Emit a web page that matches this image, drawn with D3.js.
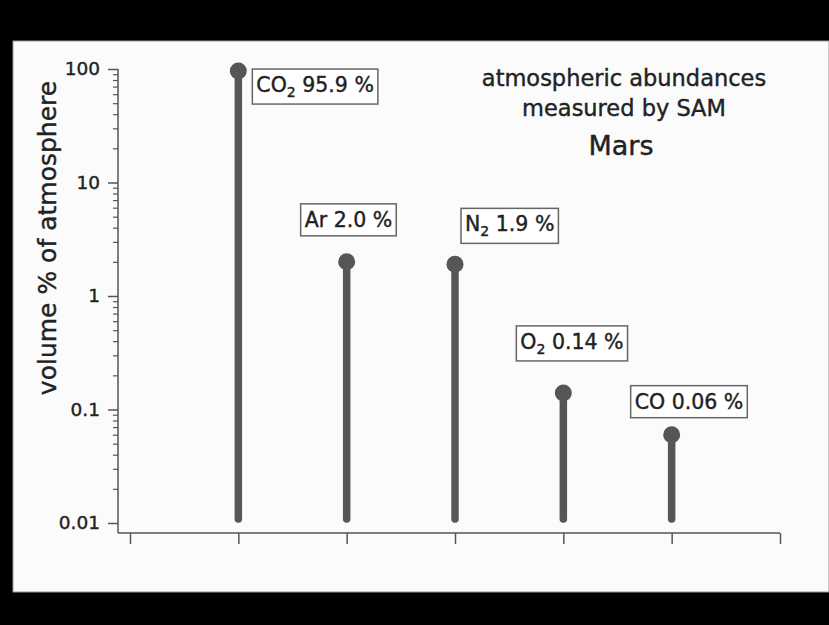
<!DOCTYPE html>
<html>
<head>
<meta charset="utf-8">
<script src="https://cdn.jsdelivr.net/npm/d3@7"></script>
<style>
  html, body { margin: 0; padding: 0; background: #000; }
  svg { display: block; }
  text { font-family: "DejaVu Sans", sans-serif; fill: #222; stroke: #222; stroke-width: 0.4px; }
</style>
</head>
<body>
<svg id="chart" width="829" height="625"></svg>
<script>
// ---------- data ----------
const gasBase = ["CO", "Ar", "N", "O", "CO"];
const gasSub = ["2", "", "2", "2", ""];
const abundance = [95.9, 2.0, 1.9, 0.14, 0.06];
const abundanceLabels = ["95.9 %", "2.0 %", "1.9 %", "0.14 %", "0.06 %"];
const categoryIndex = [1, 2, 3, 4, 5];
const xTickValues = [0, 1, 2, 3, 4, 5, 6];
const yTickValues = [0.01, 0.1, 1, 10, 100];
const yTickLabels = ["0.01", "0.1", "1", "10", "100"];
const titleLines = ["atmospheric abundances", "measured by SAM"];
const subtitle = "Mars";
const yAxisTitle = "volume % of atmosphere";

// ---------- layout (not data) ----------
// label box top-left offset relative to its dot
const labelOffsets = [[14, -2], [-46, -58], [6, -56], [-47, -67], [-41, -49]];

const svg = d3.select("#chart");
const W = 829, H = 625;

// panel
svg.append("rect").attr("x", 0).attr("y", 0).attr("width", W).attr("height", H).attr("fill", "#000");
svg.append("rect").attr("x", 13).attr("y", 41).attr("width", W - 13).attr("height", 551)
  .attr("fill", "#fbfbfb").attr("stroke", "#999").attr("stroke-width", 1);

const axisY = 533, axisX = 118;
const x = d3.scaleLinear().domain([0, 6]).range([130, 780]);
const y = d3.scaleLog().domain([0.01, 100]).range([523, 69]);

const axisColor = "#555";

// x axis
const gx = svg.append("g").attr("transform", `translate(0,${axisY})`)
  .call(d3.axisBottom(x).tickValues(xTickValues).tickSize(11).tickSizeOuter(0).tickFormat(""));
gx.select(".domain").remove();
gx.selectAll(".tick line").attr("stroke", axisColor).attr("stroke-width", 1.5);
svg.append("line").attr("x1", axisX).attr("x2", x(6)).attr("y1", axisY).attr("y2", axisY)
  .attr("stroke", axisColor).attr("stroke-width", 1.5);

// y axis minor ticks
const minorVals = [];
yTickValues.slice(0, -1).forEach(d => { for (let k = 2; k <= 9; k++) minorVals.push(d * k); });
const gyMinor = svg.append("g").attr("transform", `translate(${axisX},0)`)
  .call(d3.axisLeft(y).tickValues(minorVals).tickSize(5).tickSizeOuter(0).tickFormat(""));
gyMinor.select(".domain").remove();
gyMinor.selectAll(".tick line").attr("stroke", axisColor).attr("stroke-width", 1.2);

// y axis major ticks
const gy = svg.append("g").attr("transform", `translate(${axisX},0)`)
  .call(d3.axisLeft(y).tickValues(yTickValues).tickSize(10).tickPadding(8).tickSizeOuter(0)
    .tickFormat((d, i) => yTickLabels[i]));
gy.select(".domain").remove();
gy.selectAll(".tick line").attr("stroke", axisColor).attr("stroke-width", 1.5);
gy.selectAll(".tick text").attr("font-size", 18.5).attr("fill", "#222")
  .attr("font-family", "DejaVu Sans, sans-serif");
svg.append("line").attr("x1", axisX).attr("x2", axisX).attr("y1", y(100)).attr("y2", axisY)
  .attr("stroke", axisColor).attr("stroke-width", 1.5);

// y axis title
svg.append("text")
  .attr("transform", `translate(47,238) rotate(-90)`)
  .attr("text-anchor", "middle").attr("dominant-baseline", "central")
  .attr("font-size", 25).attr("fill", "#222")
  .text(yAxisTitle);

// stems
const stemColor = "#565656";
svg.selectAll("line.stem").data(abundance).enter().append("line")
  .attr("class", "stem")
  .attr("x1", (d, i) => x(categoryIndex[i])).attr("x2", (d, i) => x(categoryIndex[i]))
  .attr("y1", y(0.01) - 4).attr("y2", d => y(d))
  .attr("stroke", stemColor).attr("stroke-width", 7.5).attr("stroke-linecap", "round");

svg.selectAll("circle.dot").data(abundance).enter().append("circle")
  .attr("class", "dot")
  .attr("cx", (d, i) => x(categoryIndex[i])).attr("cy", d => y(d))
  .attr("r", 8.5).attr("fill", stemColor);

// labels
abundance.forEach((v, i) => {
  const cx = x(categoryIndex[i]), cy = y(v);
  const g = svg.append("g");
  const rect = g.append("rect");
  const t = g.append("text").attr("font-size", 20.5).attr("fill", "#111");
  t.append("tspan").text(gasBase[i]);
  if (gasSub[i]) {
    t.append("tspan").attr("font-size", 14).attr("dy", 5).text(gasSub[i]);
    t.append("tspan").attr("dy", -5).text(" " + abundanceLabels[i]);
  } else {
    t.append("tspan").text(" " + abundanceLabels[i]);
  }
  const bb = t.node().getBBox();
  const padX = 4, padY = 4;
  rect.attr("x", bb.x - padX).attr("y", bb.y - padY)
    .attr("width", bb.width + 2 * padX).attr("height", bb.height + 2 * padY)
    .attr("fill", "#fff").attr("stroke", "#666").attr("stroke-width", 1.5);
  const left = cx + labelOffsets[i][0], top = cy + labelOffsets[i][1];
  g.attr("transform", `translate(${left - (bb.x - padX)},${top - (bb.y - padY)})`);
});

// title
const titleX = 624;
svg.append("text").attr("x", titleX).attr("y", 86).attr("text-anchor", "middle")
  .attr("font-size", 22.5).text(titleLines[0]);
svg.append("text").attr("x", titleX).attr("y", 116).attr("text-anchor", "middle")
  .attr("font-size", 22.5).text(titleLines[1]);
svg.append("text").attr("x", 621).attr("y", 155).attr("text-anchor", "middle")
  .attr("font-size", 27).text(subtitle);
</script>
</body>
</html>
